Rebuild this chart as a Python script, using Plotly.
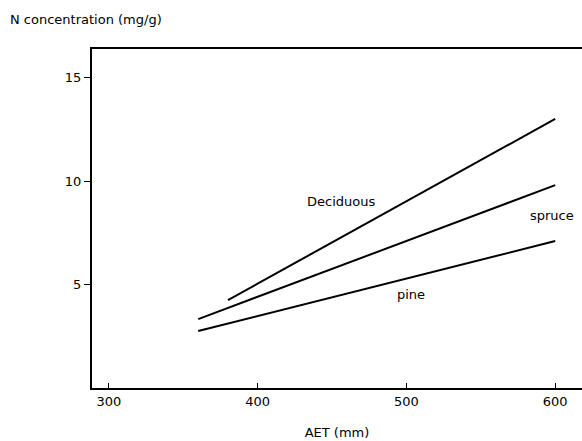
import plotly.graph_objects as go

# Fitted N concentration (mg/g) against actual evapotranspiration AET (mm)
aet_deciduous = [380, 600]
n_deciduous = [4.25, 13.0]

aet_spruce = [360, 600]
n_spruce = [3.33, 9.8]

aet_pine = [360, 600]
n_pine = [2.75, 7.1]

x_ticks = [300, 400, 500, 600]
y_ticks = [5, 10, 15]

series = [
    ("Deciduous", aet_deciduous, n_deciduous, 456, 9.0),
    ("spruce", aet_spruce, n_spruce, 598, 8.35),
    ("pine", aet_pine, n_pine, 503, 4.5),
]

font_family = "DejaVu Sans"

fig = go.Figure()
for name, xs, ys, lx, ly in series:
    fig.add_trace(go.Scatter(
        x=xs, y=ys, mode="lines", name=name,
        line=dict(color="black", width=2),
        showlegend=False, hoverinfo="skip",
    ))
    fig.add_annotation(
        x=lx, y=ly, text=name, showarrow=False,
        font=dict(family=font_family, size=13, color="black"),
    )

fig.add_annotation(
    xref="paper", yref="paper", x=-0.171, y=1.058,
    xanchor="left", yanchor="bottom",
    text="N concentration (mg/g)", showarrow=False,
    font=dict(family=font_family, size=13, color="black"),
)

fig.update_xaxes(
    range=[288.6, 618], tickvals=x_ticks,
    ticks="inside", ticklen=5, tickwidth=1, tickcolor="black",
    showline=True, linecolor="black", linewidth=2, mirror=True,
    showgrid=False, zeroline=False,
    tickfont=dict(family=font_family, size=13, color="black"),
    title=dict(text="AET (mm)", standoff=20,
               font=dict(family=font_family, size=13, color="black")),
)
fig.update_yaxes(
    range=[0, 16.38], tickvals=y_ticks,
    ticks="outside", ticklen=6, tickwidth=1, tickcolor="black",
    showline=True, linecolor="black", linewidth=2,
    showgrid=False, zeroline=False,
    tickfont=dict(family=font_family, size=13, color="black"),
)

fig.update_layout(
    width=582, height=441,
    margin=dict(l=92, r=0, t=49, b=53),
    paper_bgcolor="white", plot_bgcolor="white",
)

fig.write_html("out.html")
